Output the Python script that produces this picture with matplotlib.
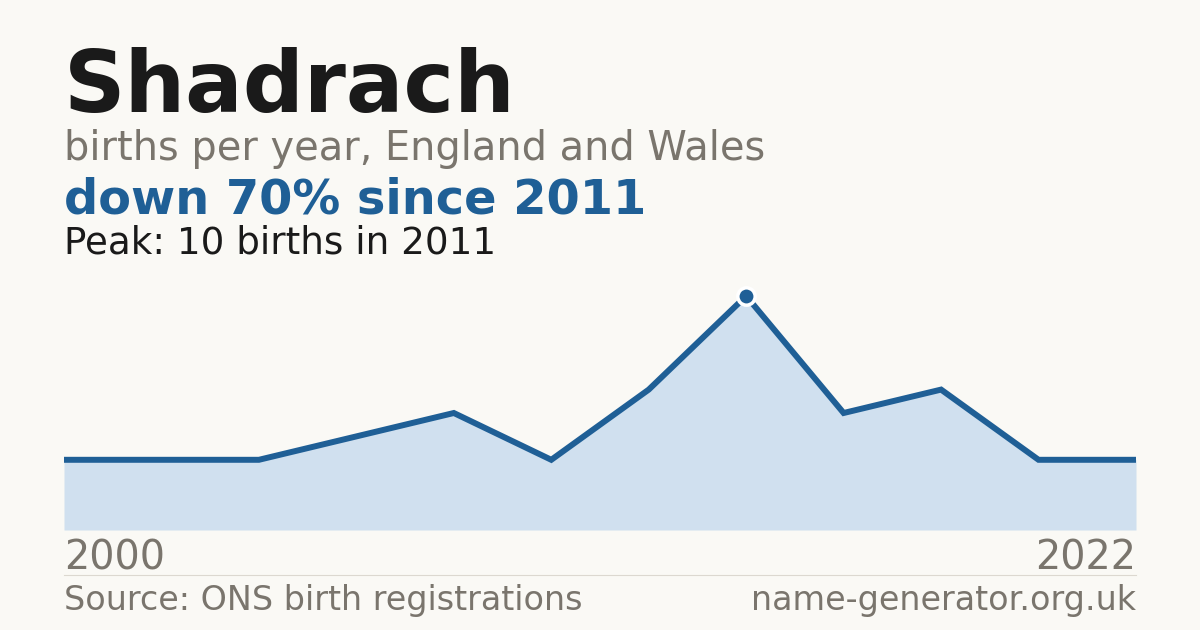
import matplotlib.pyplot as plt

plt.rcParams['font.family'] = ['DejaVu Sans']

# births per year (only first and last year are labelled on the chart)
years = [2000, 2001, 2004, 2006, 2008, 2009, 2010, 2011, 2013, 2016, 2019, 2022]
births = [3, 3, 3, 4, 5, 3, 6, 10, 5, 6, 3, 3]
peak_idx = 7

BG = '#faf9f5'
BLUE = '#1f5f96'
FILL = '#d0e0ef'
GREY = '#7a756d'
DARK = '#1a1a1a'

W, H = 1200, 630
fig = plt.figure(figsize=(12, 6.3), dpi=100, facecolor=BG)


def px(x, y):
    return x / W, 1 - y / H


# chart area: x 64..1136, y 530 (zero) .. 270 (top)
ax = fig.add_axes([64 / W, 1 - 530 / H, (1136 - 64) / W, 260 / H])
ax.set_facecolor(BG)
xs = list(range(len(births)))
ax.fill_between(xs, births, 0, color=FILL, lw=0)
ax.plot(xs, births, color=BLUE, lw=4.3, solid_joinstyle='miter', solid_capstyle='butt')
ax.plot(xs[peak_idx], births[peak_idx], 'o', ms=12.5, color=BLUE,
        mec='white', mew=2.5, zorder=5)
ax.set_xlim(0, len(births) - 1)
ax.set_ylim(0, max(births) * 260 / 234)
ax.axis('off')

# headline texts
fig.text(*px(64, 112), 'Shadrach', fontsize=61.5, fontweight='bold', color=DARK, va='baseline')
fig.text(*px(64, 160), 'births per year, England and Wales', fontsize=28.7, color=GREY, va='baseline')
drop = round((births[peak_idx] - births[-1]) / births[peak_idx] * 100)
fig.text(*px(64, 214), f'down {drop}% since {years[peak_idx]}', fontsize=34.5,
         fontweight='bold', color=BLUE, va='baseline')
fig.text(*px(64, 253), f'Peak: {births[peak_idx]} births in {years[peak_idx]}',
         fontsize=26.8, color=DARK, va='baseline')

# year labels
fig.text(*px(64, 570), str(years[0]), fontsize=28.6, color=GREY, va='baseline')
fig.text(*px(1136, 570), str(years[-1]), fontsize=28.6, color=GREY, va='baseline', ha='right')

# separator and footer
fig.add_artist(plt.Line2D([64 / W, 1136 / W], [1 - 574.5 / H] * 2, color='#dcd8d0', lw=0.8))
fig.text(*px(64, 610), 'Source: ONS birth registrations', fontsize=24, color=GREY, va='baseline')
fig.text(*px(1136, 610), 'name-generator.org.uk', fontsize=24, color=GREY,
         va='baseline', ha='right')

fig.savefig('out.png', dpi=100, facecolor=BG)
